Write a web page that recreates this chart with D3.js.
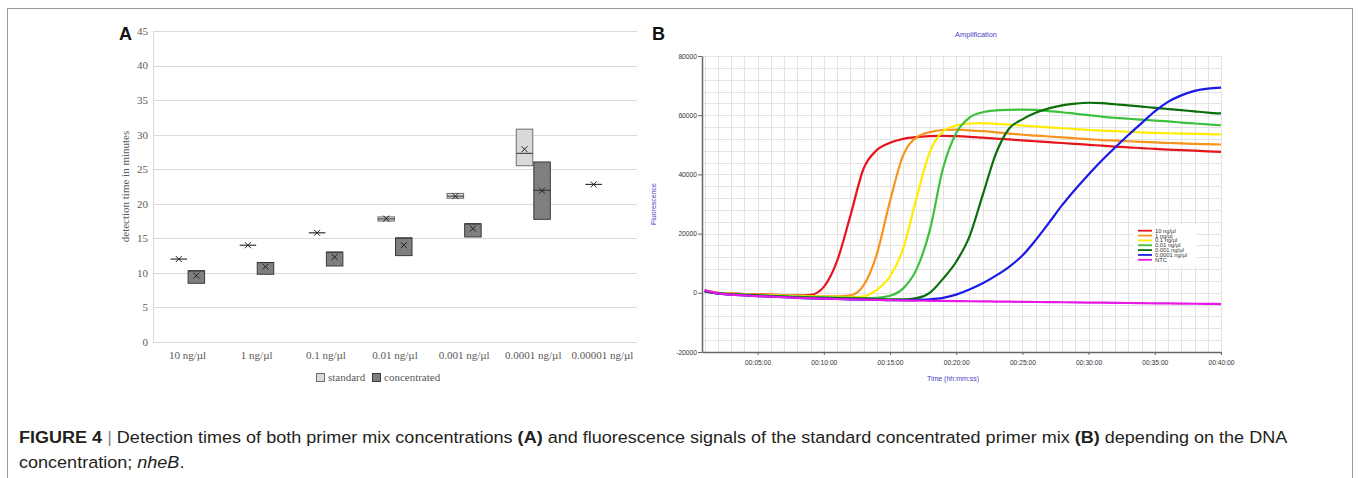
<!DOCTYPE html>
<html><head><meta charset="utf-8">
<script src="https://cdn.jsdelivr.net/npm/d3@7"></script>
<style>body{margin:0;background:#fff}</style>
</head><body>
<svg id="c" width="1360" height="478"></svg>
<script>
// ---------- Panel A data ----------
const categories = ["10 ng/µl","1 ng/µl","0.1 ng/µl","0.01 ng/µl","0.001 ng/µl","0.0001 ng/µl","0.00001 ng/µl"];
const groups = ["standard","concentrated"];
const stdQ1     = [12.0, 14.0, 15.8, 17.5, 20.8, 25.5, 22.8];
const stdQ3     = [12.0, 14.0, 15.8, 18.1, 21.5, 30.8, 22.8];
const stdMedian = [12.0, 14.0, 15.8, 17.8, 21.1, 27.3, 22.8];
const stdMean   = [12.0, 14.0, 15.8, 17.85, 21.1, 27.9, 22.8];
const conQ1     = [8.5, 9.8, 11.0, 12.5, 15.2, 17.75, null];
const conQ3     = [10.3, 11.5, 13.0, 15.05, 17.1, 26.05, null];
const conMedian = [10.3, 11.5, 13.0, 15.05, 17.1, 21.95, null];
const conMean   = [9.6, 10.9, 12.3, 14.0, 16.4, 21.9, null];
const yTicksA = [0,5,10,15,20,25,30,35,40,45];

// ---------- Panel B data ----------
const timeMin = [1,2,3,4,5,6,7,8,9,10,11,12,13,14,15,16,17,18,19,20,21,22,23,24,25,26,27,28,29,30,31,32,33,34,35,36,37,38,39,40];
const s10 = [800,0,-200,-400,-500,-600,-800,-900,-700,2000,10700,25900,41900,48200,50700,52000,52600,52900,53000,52900,52700,52400,52100,51800,51500,51200,50900,50600,50300,50000,49700,49400,49100,48900,48600,48400,48200,48000,47800,47600];
const s1 = [600,-100,-300,-500,-600,-700,-900,-1000,-1100,-1200,-1200,-900,2500,13000,31000,46500,52500,54300,55000,55100,54900,54600,54200,53800,53400,53100,52800,52500,52200,51900,51600,51400,51200,51000,50800,50600,50500,50300,50200,50100];
const s01 = [600,-100,-300,-500,-700,-800,-1000,-1100,-1200,-1300,-1400,-1500,-1200,1000,5500,15000,32000,47500,54500,56500,57200,57300,57100,56800,56500,56200,55900,55600,55300,55000,54800,54600,54400,54200,54000,53900,53800,53700,53600,53500];
const s001 = [500,-200,-400,-600,-800,-1000,-1200,-1300,-1400,-1500,-1600,-1700,-1800,-1700,-1000,1500,7900,21000,42000,54000,59200,61000,61600,61800,61900,61800,61400,61000,60500,60000,59500,59100,58800,58500,58200,57900,57500,57200,56900,56600];
const s0001 = [500,-200,-500,-700,-900,-1100,-1300,-1500,-1600,-1700,-1800,-1900,-2000,-2100,-2200,-2200,-1800,0,4700,10500,19000,33000,47000,55500,58600,60800,62300,63300,63900,64200,64100,63700,63300,62900,62500,62100,61700,61300,60900,60600];
const s00001 = [600,-300,-600,-900,-1100,-1300,-1500,-1700,-1900,-2000,-2100,-2200,-2300,-2400,-2500,-2500,-2400,-2200,-1700,-600,1100,3200,5800,8800,12600,17800,23600,29600,35000,40000,44700,49100,53300,57300,61300,64500,66700,68200,69000,69300];
const sNTC = [800,-200,-600,-900,-1100,-1300,-1500,-1700,-1800,-2000,-2100,-2200,-2300,-2400,-2500,-2550,-2650,-2700,-2750,-2800,-2850,-2900,-2950,-3000,-3050,-3100,-3150,-3200,-3250,-3300,-3350,-3400,-3450,-3500,-3550,-3600,-3650,-3700,-3750,-3800];
const seriesLabels = ["10 ng/µl","1 ng/µl","0.1 ng/µl","0.01 ng/µl","0.001 ng/µl","0.0001 ng/µl","NTC"];
const seriesColors = ["#e8141b","#f7941d","#ffec00","#3cc13c","#0b6e0b","#1a1ae6","#e619e6"];
const xTickValsB = [5,10,15,20,25,30,35,40];
const xTickLabelsB = ["00:05:00","00:10:00","00:15:00","00:20:00","00:25:00","00:30:00","00:35:00","00:40:00"];
const yTicksB = [-20000,0,20000,40000,60000,80000];

const svg = d3.select("#c");

// outer frame
svg.append("rect").attr("x",7.5).attr("y",8.5).attr("width",1345).attr("height",480)
  .attr("fill","none").attr("stroke","#9a9a9a").attr("stroke-width",1);

// ================= Panel A =================
const gA = svg.append("g");
const ax = d3.scaleBand().domain(categories).range([153,637]);
const ay = d3.scaleLinear().domain([0,45]).range([342,31]);
const inner = d3.scaleBand().domain(groups).range([0, ax.bandwidth()]).paddingInner(0.06).paddingOuter(1.0);
const serif = "'Liberation Serif','Times New Roman',serif";

gA.selectAll("line.grid").data(yTicksA).join("line")
  .attr("x1",153).attr("x2",637).attr("y1",d=>Math.round(ay(d))+0.5).attr("y2",d=>Math.round(ay(d))+0.5)
  .attr("stroke","#d9d9d9").attr("stroke-width",1);
gA.append("line").attr("x1",153.5).attr("x2",153.5).attr("y1",ay(45)).attr("y2",ay(0)).attr("stroke","#d9d9d9");

gA.selectAll("text.yt").data(yTicksA).join("text")
  .attr("x",148).attr("y",d=>ay(d)).attr("dy","0.35em").attr("text-anchor","end")
  .style("font-family",serif).style("font-size","11px").attr("fill","#595959").text(d=>d);

gA.append("text").attr("transform",`translate(129,${(ay(45)+ay(0))/2}) rotate(-90)`)
  .attr("text-anchor","middle").style("font-family",serif).style("font-size","11px").attr("fill","#595959")
  .text("detection time in minutes");

gA.selectAll("text.xl").data(categories).join("text")
  .attr("x",d=>ax(d)+ax.bandwidth()/2).attr("y",359).attr("text-anchor","middle")
  .style("font-family",serif).style("font-size","11px").attr("fill","#595959").text(d=>d);

function drawBoxes(group, q1, q3, med, mean, fill, stroke){
  categories.forEach((c,i)=>{
    if(q1[i]==null) return;
    const x0 = ax(c)+inner(group), w = inner.bandwidth();
    const yT = ay(q3[i]), yB = ay(q1[i]);
    if(yB-yT>0.5){
      gA.append("rect").attr("x",x0).attr("y",yT).attr("width",w).attr("height",yB-yT)
        .attr("fill",fill).attr("stroke",stroke).attr("stroke-width",1);
      gA.append("line").attr("x1",x0).attr("x2",x0+w).attr("y1",ay(med[i])).attr("y2",ay(med[i]))
        .attr("stroke","#303030").attr("stroke-width",1);
    } else {
      gA.append("line").attr("x1",x0).attr("x2",x0+w).attr("y1",yT).attr("y2",yT)
        .attr("stroke","#303030").attr("stroke-width",1.2);
    }
    const cx = x0+w/2, cy = ay(mean[i]), r = 3;
    gA.append("path").attr("d",`M${cx-r},${cy-r}L${cx+r},${cy+r}M${cx-r},${cy+r}L${cx+r},${cy-r}`)
      .attr("stroke","#202020").attr("stroke-width",1).attr("fill","none");
  });
}
drawBoxes("standard", stdQ1, stdQ3, stdMedian, stdMean, "#d9d9d9", "#6e6e6e");
drawBoxes("concentrated", conQ1, conQ3, conMedian, conMean, "#7f7f7f", "#3a3a3a");

// legend A
const legA = [{label:"standard",fill:"#d9d9d9",stroke:"#6e6e6e",x:316},{label:"concentrated",fill:"#7f7f7f",stroke:"#3a3a3a",x:372}];
legA.forEach(l=>{
  gA.append("rect").attr("x",l.x+0.5).attr("y",373.5).attr("width",8).attr("height",8).attr("fill",l.fill).attr("stroke",l.stroke);
  gA.append("text").attr("x",l.x+12).attr("y",381).style("font-family",serif).style("font-size","11px").attr("fill","#595959").text(l.label);
});

svg.append("text").attr("x",119).attr("y",40).style("font-family","'Liberation Sans',Arial,sans-serif")
  .style("font-size","18px").style("font-weight","bold").attr("fill","#111").text("A");
svg.append("text").attr("x",652).attr("y",40).style("font-family","'Liberation Sans',Arial,sans-serif")
  .style("font-size","18px").style("font-weight","bold").attr("fill","#111").text("B");

// ================= Panel B =================
const gB = svg.append("g");
const sans = "'Liberation Sans',Arial,sans-serif";
const bx = d3.scaleLinear().domain([0.8,40]).range([702,1221]);
const by = d3.scaleLinear().domain([-20000,80000]).range([352,56]);

const vGrid = d3.range(1,41);
const hGrid = d3.range(-20000,80001,4000);
gB.selectAll("line.vg").data(vGrid).join("line")
  .attr("x1",d=>Math.round(bx(d))+0.5).attr("x2",d=>Math.round(bx(d))+0.5).attr("y1",by(80000)).attr("y2",by(-20000))
  .attr("stroke","#e3e3e3");
gB.selectAll("line.hg").data(hGrid).join("line")
  .attr("x1",bx(0.8)).attr("x2",bx(40)).attr("y1",d=>Math.round(by(d))+0.5).attr("y2",d=>Math.round(by(d))+0.5)
  .attr("stroke","#e3e3e3");

// legend background
gB.append("rect").attr("x",1133).attr("y",225).attr("width",64).attr("height",41).attr("fill","#fff");

const line = d3.line().x((d,i)=>bx(timeMin[i])).y(d=>by(d)).curve(d3.curveMonotoneX);
const allSeries = [s10,s1,s01,s001,s0001,s00001,sNTC];
allSeries.forEach((s,k)=>{
  gB.append("path").attr("d",line(s)).attr("fill","none").attr("stroke",seriesColors[k]).attr("stroke-width",2.2);
});

const yAx = gB.append("g").attr("transform",`translate(${bx(0.8)},0)`)
  .call(d3.axisLeft(by).tickValues(yTicksB).tickSize(4).tickSizeOuter(0).tickFormat(d=>d));
const xAx = gB.append("g").attr("transform",`translate(0,${by(-20000)})`)
  .call(d3.axisBottom(bx).tickValues(xTickValsB).tickSize(3).tickSizeOuter(0).tickFormat((d,i)=>xTickLabelsB[i]));
[yAx,xAx].forEach(a=>{
  a.select(".domain").attr("stroke","#666").attr("stroke-width",1.5);
  a.selectAll(".tick line").attr("stroke","#666");
  a.selectAll("text").style("font-family",sans).style("font-size","6.7px").attr("fill","#333");
});
yAx.selectAll("text").attr("x",-5);
xAx.selectAll("text").attr("y",8);

gB.append("text").attr("x",976).attr("y",36.5).attr("text-anchor","middle")
  .style("font-family",sans).style("font-size","7.4px").attr("fill","#4a3fc4").text("Amplification");
gB.append("text").attr("transform",`translate(656,${(by(80000)+by(-20000))/2}) rotate(-90)`).attr("text-anchor","middle")
  .style("font-family",sans).style("font-size","7px").attr("fill","#4a3fc4").text("Fluorescence");
gB.append("text").attr("x",953).attr("y",380.5).attr("text-anchor","middle")
  .style("font-family",sans).style("font-size","7px").attr("fill","#4a3fc4").text("Time (hh:mm:ss)");

seriesLabels.forEach((l,k)=>{
  const yy = 230.7 + k*4.85;
  gB.append("line").attr("x1",1138).attr("x2",1152).attr("y1",yy).attr("y2",yy).attr("stroke",seriesColors[k]).attr("stroke-width",1.8);
  gB.append("text").attr("x",1155).attr("y",yy).attr("dy","0.35em").style("font-family",sans).style("font-size","5.8px").attr("fill","#333").text(l);
});

// ================= Caption =================
const cap = svg.append("g").attr("fill","#231f20");
const capFont = "'Liberation Sans Narrow','Arial Narrow','Liberation Sans',sans-serif";
const t1 = cap.append("text").attr("x",0).attr("y",0).style("font-family",capFont).style("font-size","17px");
t1.append("tspan").style("font-weight","bold").text("FIGURE 4");
t1.append("tspan").attr("fill","#888").text(" | ");
t1.append("tspan").text("Detection times of both primer mix concentrations ");
t1.append("tspan").style("font-weight","bold").text("(A)");
t1.append("tspan").text(" and fluorescence signals of the standard concentrated primer mix ");
t1.append("tspan").style("font-weight","bold").text("(B)");
t1.append("tspan").text(" depending on the DNA");
const t2 = cap.append("text").attr("x",0).attr("y",0).style("font-family",capFont).style("font-size","17px");
t2.append("tspan").text("concentration; ");
t2.append("tspan").style("font-style","italic").text("nheB");
t2.append("tspan").text(".");
const w1 = t1.node().getComputedTextLength();
const sx = 1269 / w1;
t1.attr("transform",`translate(19,443) scale(${sx},1)`);
t2.attr("transform",`translate(19,468) scale(${sx},1)`);
</script>
</body></html>
